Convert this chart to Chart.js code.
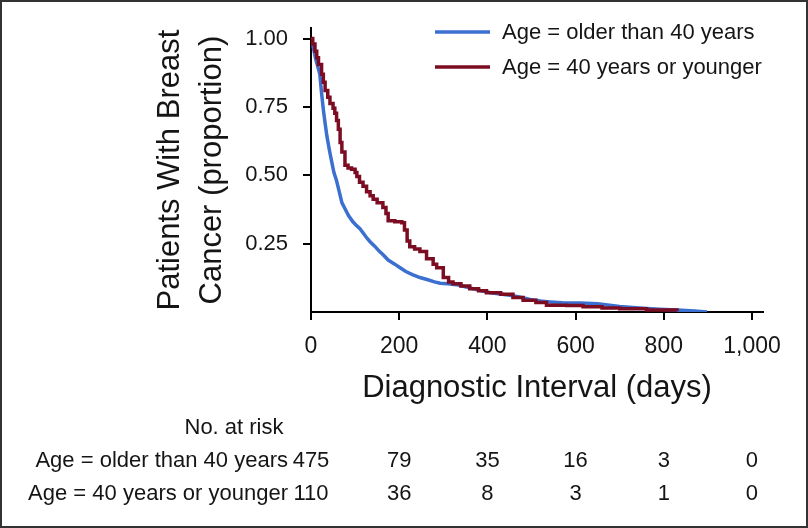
<!DOCTYPE html>
<html>
<head>
<meta charset="utf-8">
<script src="https://cdn.jsdelivr.net/npm/chart.js@4"></script>
<style>
  html, body { margin: 0; padding: 0; background: #fff; }
  canvas { display: block; }
</style>
</head>
<body>
<canvas id="kmChart" width="808" height="528"></canvas>
<script>
// Kaplan-Meier curves
const olderDays = [0, 5, 10, 15, 20, 24, 28, 32, 36, 42, 47, 52, 58, 64, 70, 78, 85, 95, 104, 111, 120, 127, 134, 145, 155, 163, 175, 190, 202, 215, 230, 247, 265, 280, 293, 310, 330, 361, 380, 398, 420, 451, 475, 497, 520, 542, 570, 610, 650, 700, 753, 790, 830, 870, 898];
const olderSurv = [1.0, 0.97, 0.93, 0.90, 0.87, 0.80, 0.74, 0.69, 0.644, 0.59, 0.549, 0.51, 0.48, 0.44, 0.40, 0.375, 0.353, 0.33, 0.315, 0.305, 0.285, 0.27, 0.257, 0.24, 0.222, 0.21, 0.19, 0.175, 0.162, 0.148, 0.137, 0.126, 0.118, 0.11, 0.105, 0.103, 0.10, 0.088, 0.08, 0.073, 0.068, 0.061, 0.054, 0.046, 0.04, 0.037, 0.034, 0.033, 0.03, 0.02, 0.014, 0.01, 0.007, 0.004, 0.0];

const youngerDays = [0, 4, 9, 13, 17, 24, 28, 32, 38, 43, 50, 54, 58, 62, 66, 70, 77, 84, 92, 100, 104, 110, 118, 126, 134, 141, 150, 163, 170, 175, 190, 206, 212, 218, 224, 235, 247, 262, 277, 285, 300, 312, 322, 340, 360, 380, 398, 430, 458, 481, 510, 534, 580, 617, 660, 700, 761, 830];
const youngerSurv = [1.0, 0.98, 0.954, 0.93, 0.905, 0.87, 0.84, 0.81, 0.785, 0.763, 0.745, 0.727, 0.70, 0.668, 0.62, 0.585, 0.537, 0.527, 0.522, 0.51, 0.496, 0.475, 0.46, 0.44, 0.425, 0.412, 0.40, 0.382, 0.36, 0.334, 0.33, 0.326, 0.30, 0.26, 0.239, 0.23, 0.221, 0.195, 0.175, 0.162, 0.126, 0.11, 0.103, 0.095, 0.085, 0.078, 0.07, 0.065, 0.053, 0.043, 0.035, 0.025, 0.024, 0.019, 0.015, 0.012, 0.007, 0.005];

const xTicks = [0, 200, 400, 600, 800, 1000];
const yTicks = [0.25, 0.5, 0.75, 1.0];

// number at risk table
const riskTimes = [0, 200, 400, 600, 800, 1000];
const riskOlder = [475, 79, 35, 16, 3, 0];
const riskYounger = [110, 36, 8, 3, 1, 0];

const labelOlder = 'Age = older than 40 years';
const labelYounger = 'Age = 40 years or younger';
const blue = '#3b6fd0';
const maroon = '#7b0c22';
const ink = '#151515';
const sans = "'Liberation Sans', Arial, sans-serif";

function toPoints(xs, ys) {
  return xs.map((x, i) => ({ x: x, y: ys[i] }));
}

// legend, risk table and frame
const extras = {
  id: 'extras',
  afterDraw(chart) {
    const ctx = chart.ctx;
    const xs = chart.scales.x;
    ctx.save();

    // legend
    const rows = [[labelOlder, blue, 32], [labelYounger, maroon, 67]];
    ctx.font = '22px ' + sans;
    ctx.textBaseline = 'middle';
    ctx.textAlign = 'left';
    rows.forEach(([txt, col, y]) => {
      ctx.strokeStyle = col;
      ctx.lineWidth = 3.5;
      ctx.beginPath();
      ctx.moveTo(435, y);
      ctx.lineTo(490, y);
      ctx.stroke();
      ctx.fillStyle = ink;
      ctx.fillText(txt, 502, y + 1);
    });

    // number at risk
    ctx.fillStyle = ink;
    ctx.textAlign = 'center';
    ctx.fillText('No. at risk', 234, 428);
    ctx.textAlign = 'right';
    ctx.fillText(labelOlder, 288, 461);
    ctx.fillText(labelYounger, 288, 494);
    ctx.textAlign = 'center';
    riskTimes.forEach((t, i) => {
      const px = xs.getPixelForValue(t);
      ctx.fillText(String(riskOlder[i]), px, 461);
      ctx.fillText(String(riskYounger[i]), px, 494);
    });

    // outer frame
    ctx.strokeStyle = '#333';
    ctx.lineWidth = 2;
    ctx.strokeRect(1, 1, chart.width - 2, chart.height - 2);
    ctx.restore();
  }
};

const ctx = document.getElementById('kmChart').getContext('2d');
new Chart(ctx, {
  type: 'line',
  data: {
    datasets: [{
      label: labelOlder,
      data: toPoints(olderDays, olderSurv),
      borderColor: blue,
      borderWidth: 3.5,
      stepped: false,
      fill: false,
      order: 1
    }, {
      label: labelYounger,
      data: toPoints(youngerDays, youngerSurv),
      borderColor: maroon,
      borderWidth: 3.5,
      stepped: 'before',
      fill: false,
      order: 0
    }]
  },
  options: {
    responsive: false,
    animation: false,
    layout: { padding: { left: 150, top: 22, right: 45, bottom: 121 } },
    elements: { point: { radius: 0 } },
    plugins: {
      legend: { display: false },
      tooltip: { enabled: false }
    },
    scales: {
      x: {
        type: 'linear',
        min: 0,
        max: 1025,
        afterBuildTicks: s => { s.ticks = xTicks.map(v => ({ value: v })); },
        afterFit: s => { s.height = 95; },
        ticks: {
          color: ink,
          padding: 13,
          font: { family: sans, size: 23 },
          callback: v => v.toLocaleString('en-US')
        },
        grid: { drawOnChartArea: false, drawTicks: true, tickLength: 8, color: '#000', lineWidth: 2 },
        border: { display: true, color: '#000', width: 2 },
        title: {
          display: true,
          text: 'Diagnostic Interval (days)',
          color: ink,
          padding: 0,
          font: { family: sans, size: 31 }
        }
      },
      y: {
        min: 0,
        max: 1.038,
        afterBuildTicks: s => { s.ticks = yTicks.map(v => ({ value: v })); },
        afterFit: s => { s.width = 161; },
        ticks: {
          color: ink,
          padding: 15,
          font: { family: sans, size: 22 },
          callback: v => v.toFixed(2)
        },
        grid: { drawOnChartArea: false, drawTicks: true, tickLength: 8, color: '#000', lineWidth: 2 },
        border: { display: true, color: '#000', width: 2 },
        title: {
          display: true,
          text: ['Patients With Breast', 'Cancer (proportion)'],
          color: ink,
          padding: 0,
          font: { family: sans, size: 31, lineHeight: 1.35 }
        }
      }
    }
  },
  plugins: [extras]
});
</script>
</body>
</html>
